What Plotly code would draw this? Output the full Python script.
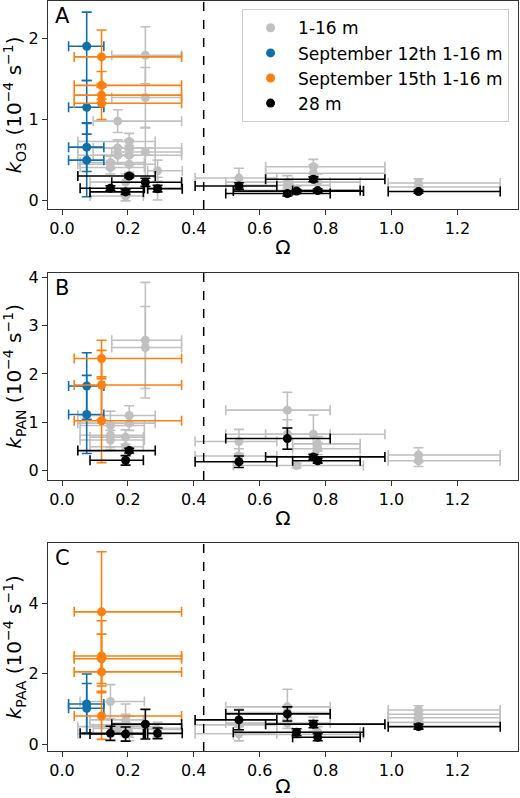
import plotly.graph_objects as go
from plotly.subplots import make_subplots

# Omega bins shared by gray (1-16 m) and black (28 m) points
OMEGA = [0.147, 0.169, 0.193, 0.204, 0.253, 0.290, 0.537, 0.684, 0.712, 0.763, 0.776, 1.082]
OMEGA_LO = [0.055, 0.095, 0.085, 0.048, 0.151, 0.260, 0.404, 0.497, 0.520, 0.618, 0.700, 0.990]
OMEGA_HI = [0.250, 0.363, 0.247, 0.283, 0.363, 0.365, 0.652, 0.814, 0.915, 0.980, 0.905, 1.330]

# September 12th / 15th omega values and ranges
SEP12_OMEGA, SEP12_LO, SEP12_HI = 0.075, 0.020, 0.127
SEP15_OMEGA, SEP15_LO, SEP15_HI = 0.120, 0.037, 0.363

# Panel A: k_O3
A_gray_bin = [4, 4, 4, 1, 1, 1, 3, 3, 3, 3, 0, 0, 5, 5, 2, 2, 6, 7, 7, 8, 9, 9, 10, 11, 11]
A_gray_y = [1.79, 1.27, 0.60, 0.98, 0.65, 0.56, 0.73, 0.65, 0.56, 0.45, 0.47, 0.41, 0.37, 0.15, 0.23, 0.06,
            0.28, 0.23, 0.19, 0.13, 0.42, 0.34, 0.23, 0.22, 0.17]
A_gray_err = [0.35, 0.37, 0.30, 0.14, 0.10, 0.10, 0.10, 0.10, 0.12, 0.10, 0.08, 0.08, 0.13, 0.14, 0.10, 0.06,
              0.12, 0.08, 0.07, 0.05, 0.09, 0.10, 0.10, 0.05, 0.05]
A_sep12_y = [1.90, 1.15, 0.66, 0.50]
A_sep12_err = [0.42, 0.33, 0.30, 0.45]
A_sep15_y = [1.77, 1.42, 1.30, 1.20]
A_sep15_err = [0.33, 0.17, 0.10, 0.20]
A_black_bin = [0, 2, 3, 4, 5, 6, 7, 8, 9, 10, 11]
A_black_y = [0.155, 0.11, 0.306, 0.228, 0.15, 0.183, 0.09, 0.12, 0.265, 0.126, 0.114]
A_black_err = [0.03, 0.03, 0.02, 0.05, 0.04, 0.04, 0.03, 0.02, 0.03, 0.02, 0.02]

# Panel B: k_PAN
B_gray_bin = [4, 4, 3, 3, 0, 0, 0, 2, 2, 7, 7, 6, 6, 9, 10, 10, 8, 11, 11]
B_gray_y = [2.70, 2.55, 1.14, 0.98, 0.93, 0.73, 0.63, 0.69, 0.49, 1.25, 0.75, 0.60, 0.30, 0.75, 0.55, 0.45,
            0.10, 0.32, 0.20]
B_gray_err = [1.20, 0.85, 0.20, 0.15, 0.30, 0.25, 0.20, 0.15, 0.20, 0.37, 0.30, 0.25, 0.15, 0.40, 0.15, 0.12,
              0.05, 0.15, 0.12]
B_sep12_y = [1.75, 1.16]
B_sep12_err = [0.69, 0.81]
B_sep15_y = [2.32, 1.77, 1.03]
B_sep15_err = [0.38, 0.72, 0.87]
B_black_bin = [3, 2, 6, 7, 9, 10]
B_black_y = [0.41, 0.21, 0.18, 0.66, 0.28, 0.20]
B_black_err = [0.05, 0.10, 0.12, 0.22, 0.05, 0.05]

# Panel C: k_PAA
C_gray_bin = [0, 2, 2, 3, 3, 1, 5, 7, 7, 7, 6, 6, 9, 10, 8, 11, 11, 11, 11]
C_gray_y = [1.21, 0.69, 0.55, 0.50, 0.30, 0.45, 0.42, 1.06, 0.90, 0.60, 0.55, 0.30, 0.57, 0.35, 0.28,
            0.97, 0.85, 0.75, 0.62]
C_gray_err = [0.48, 0.45, 0.30, 0.30, 0.20, 0.15, 0.20, 0.50, 0.20, 0.15, 0.45, 0.20, 0.20, 0.15, 0.10,
              0.12, 0.10, 0.10, 0.10]
C_sep12_y = [1.14, 1.02]
C_sep12_err = [0.85, 0.70]
C_sep15_y = [3.75, 2.50, 2.42, 2.05, 0.80]
C_sep15_err = [1.70, 1.00, 0.70, 0.40, 0.66]
C_black_bin = [0, 2, 4, 5, 6, 7, 8, 9, 10, 11]
C_black_y = [0.31, 0.29, 0.57, 0.31, 0.69, 0.86, 0.34, 0.57, 0.20, 0.50]
C_black_err = [0.20, 0.20, 0.42, 0.15, 0.28, 0.20, 0.10, 0.10, 0.10, 0.07]

PANELS = [
    ("A", A_gray_bin, A_gray_y, A_gray_err, A_sep12_y, A_sep12_err, A_sep15_y, A_sep15_err,
     A_black_bin, A_black_y, A_black_err),
    ("B", B_gray_bin, B_gray_y, B_gray_err, B_sep12_y, B_sep12_err, B_sep15_y, B_sep15_err,
     B_black_bin, B_black_y, B_black_err),
    ("C", C_gray_bin, C_gray_y, C_gray_err, C_sep12_y, C_sep12_err, C_sep15_y, C_sep15_err,
     C_black_bin, C_black_y, C_black_err),
]
Y_TITLES = ["<i>k</i><sub>O3</sub> (10<sup>−4</sup> s<sup>−1</sup>)",
            "<i>k</i><sub>PAN</sub> (10<sup>−4</sup> s<sup>−1</sup>)",
            "<i>k</i><sub>PAA</sub> (10<sup>−4</sup> s<sup>−1</sup>)"]
Y_RANGES = [[-0.1, 2.457], [-0.2, 4.1], [-0.19, 5.69]]
Y_TICKS = [[0, 1, 2], [0, 1, 2, 3, 4], [0, 2, 4]]
OMEGA_CRIT = 0.43

GRAY, BLUE, ORANGE, BLACK = "#c0c0c0", "#1170aa", "#ff7f0e", "#000000"
NAMES = ["1-16 m", "September 12th 1-16 m", "September 15th 1-16 m", "28 m"]

fig = make_subplots(rows=3, cols=1, vertical_spacing=0.08)
DOMAINS = [[0.7227, 1.0], [0.3613, 0.6377], [0.0, 0.2769]]
FONT = "DejaVu Sans"


def add_series(row, xs, lo, hi, ys, errs, color, name, show):
    fig.add_trace(go.Scatter(
        x=xs, y=ys, mode="markers", name=name, showlegend=show,
        marker=dict(color=color, size=9, line=dict(width=0)),
        error_x=dict(type="data", symmetric=False,
                     array=[h - x for h, x in zip(hi, xs)],
                     arrayminus=[x - l for x, l in zip(xs, lo)],
                     color=color, thickness=1.6, width=5),
        error_y=dict(type="data", array=errs, color=color, thickness=1.6, width=5),
    ), row=row, col=1)


for i, (lab, gb, gy, ge, by, be, oy, oe, kb, ky, ke) in enumerate(PANELS):
    row = i + 1
    show = (i == 0)
    add_series(row, [OMEGA[b] for b in gb], [OMEGA_LO[b] for b in gb], [OMEGA_HI[b] for b in gb],
               gy, ge, GRAY, NAMES[0], show)
    add_series(row, [SEP12_OMEGA] * len(by), [SEP12_LO] * len(by), [SEP12_HI] * len(by),
               by, be, BLUE, NAMES[1], show)
    add_series(row, [SEP15_OMEGA] * len(oy), [SEP15_LO] * len(oy), [SEP15_HI] * len(oy),
               oy, oe, ORANGE, NAMES[2], show)
    add_series(row, [OMEGA[b] for b in kb], [OMEGA_LO[b] for b in kb], [OMEGA_HI[b] for b in kb],
               ky, ke, BLACK, NAMES[3], show)

    xa = "xaxis" if row == 1 else f"xaxis{row}"
    ya = "yaxis" if row == 1 else f"yaxis{row}"
    xref = "x" if row == 1 else f"x{row}"
    yref = "y" if row == 1 else f"y{row}"
    fig.layout[xa].update(
        range=[-0.0425, 1.384], tickvals=[0, 0.2, 0.4, 0.6, 0.8, 1.0, 1.2], tickformat=".1f",
        showgrid=False, zeroline=False, showline=True, mirror=True, linecolor="#333", linewidth=1,
        ticks="outside", ticklen=5, tickcolor="#333", automargin=False,
        tickfont=dict(family=FONT, size=16, color="black"),
        title=dict(text="Ω", font=dict(family=FONT, size=20, color="black"), standoff=2),
    )
    fig.layout[ya].update(
        domain=DOMAINS[i], range=Y_RANGES[i], tickvals=Y_TICKS[i],
        showgrid=False, zeroline=False, showline=True, mirror=True, linecolor="#333", linewidth=1,
        ticks="outside", ticklen=5, tickcolor="#333", automargin=False,
        tickfont=dict(family=FONT, size=16, color="black"),
        title=dict(text=Y_TITLES[i], font=dict(family=FONT, size=20, color="black"), standoff=4),
    )
    fig.add_shape(type="line", xref=xref, yref=f"{yref} domain", x0=OMEGA_CRIT, x1=OMEGA_CRIT,
                  y0=0, y1=1, line=dict(color="black", width=1.5, dash="dash"))
    fig.add_annotation(text=lab, xref=f"{xref} domain", yref=f"{yref} domain", x=0.01, y=0.995,
                       xanchor="left", yanchor="top", showarrow=False,
                       font=dict(family=FONT, size=21, color="black"))

fig.update_layout(
    width=520, height=798,
    margin=dict(l=48, r=2, t=1, b=47, autoexpand=False),
    paper_bgcolor="white", plot_bgcolor="white",
    font=dict(family=FONT, color="black"),
    legend=dict(x=0.981, y=0.989, xanchor="right", yanchor="top", tracegroupgap=0,
                bgcolor="rgba(255,255,255,0.85)", bordercolor="#cccccc", borderwidth=1,
                font=dict(family=FONT, size=17, color="black"), itemwidth=45),
)

fig.write_html("out.html", config={"displayModeBar": False},
               post_script="document.body.style.margin='0';")
